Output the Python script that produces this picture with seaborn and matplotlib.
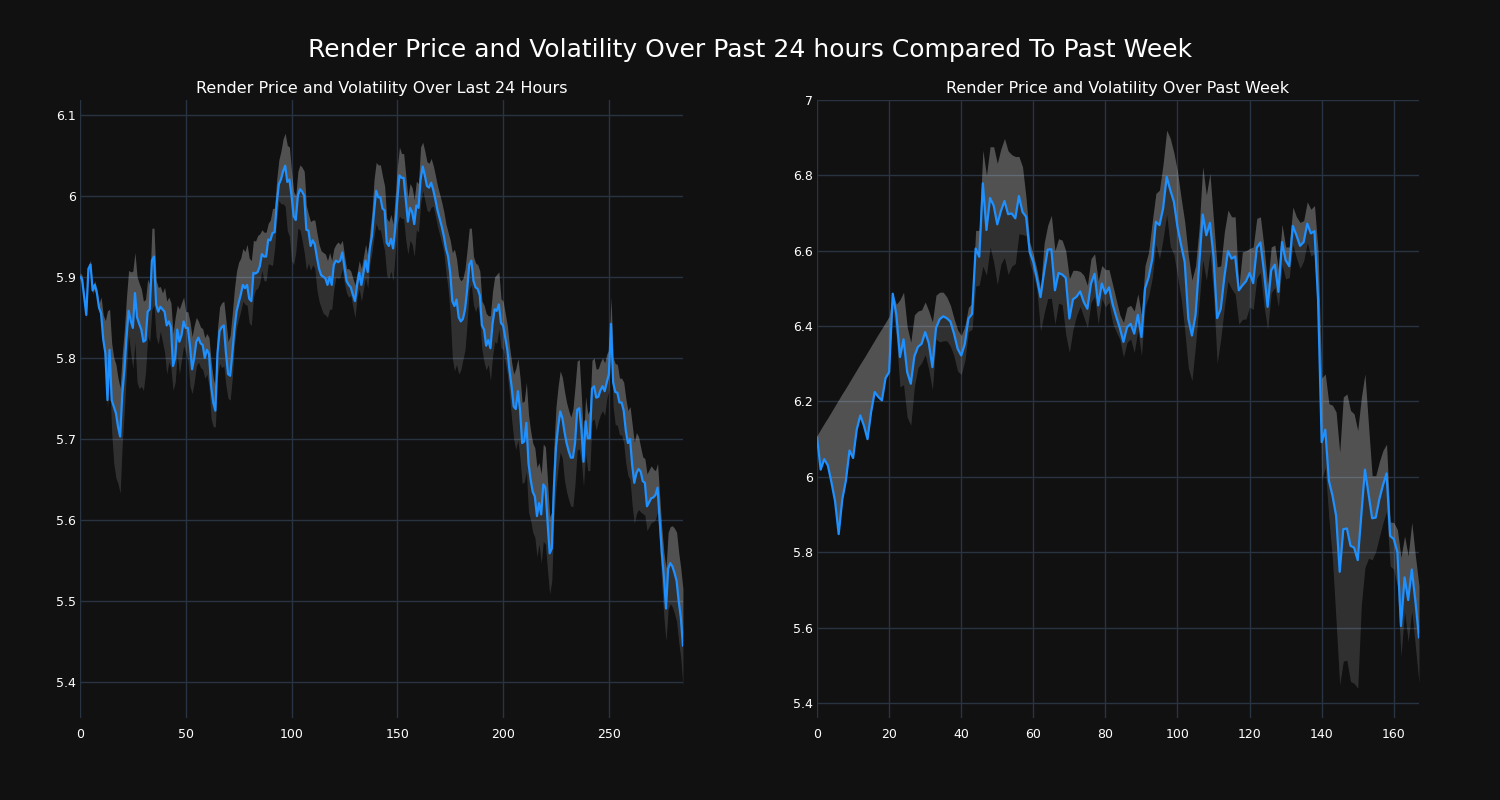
import numpy as np
import pandas as pd
import matplotlib
matplotlib.use("Agg")
import matplotlib.pyplot as plt
import seaborn as sns
from matplotlib.ticker import FuncFormatter, MultipleLocator

# Last 24 hours: price and band widths above / below the price
price_24h = [
    5.900, 5.897, 5.875, 5.853, 5.910, 5.915, 5.883, 5.890, 5.880, 5.862,
    5.855, 5.823, 5.806, 5.748, 5.810, 5.748, 5.740, 5.732, 5.715, 5.703,
    5.755, 5.785, 5.825, 5.858, 5.846, 5.837, 5.880, 5.850, 5.842, 5.835,
    5.820, 5.822, 5.857, 5.860, 5.920, 5.925, 5.866, 5.857, 5.863, 5.860,
    5.857, 5.840, 5.845, 5.838, 5.790, 5.800, 5.835, 5.820, 5.828, 5.845,
    5.837, 5.837, 5.815, 5.786, 5.800, 5.820, 5.825, 5.818, 5.816, 5.800,
    5.810, 5.805, 5.765, 5.745, 5.735, 5.806, 5.833, 5.838, 5.840, 5.806,
    5.780, 5.778, 5.805, 5.835, 5.857, 5.868, 5.878, 5.890, 5.886, 5.890,
    5.873, 5.870, 5.905, 5.904, 5.906, 5.913, 5.928, 5.925, 5.925, 5.946,
    5.945, 5.954, 5.955, 5.990, 6.014, 6.020, 6.030, 6.037, 6.017, 6.020,
    6.000, 5.975, 5.970, 6.000, 6.008, 6.005, 6.000, 5.958, 5.957, 5.938,
    5.945, 5.940, 5.924, 5.910, 5.902, 5.900, 5.898, 5.890, 5.900, 5.890,
    5.915, 5.920, 5.918, 5.920, 5.930, 5.912, 5.895, 5.890, 5.887, 5.878,
    5.870, 5.890, 5.905, 5.890, 5.905, 5.920, 5.906, 5.935, 5.950, 5.980,
    6.006, 5.998, 5.998, 5.984, 5.982, 5.942, 5.938, 5.947, 5.935, 5.960,
    5.995, 6.025, 6.022, 6.022, 5.995, 5.968, 5.985, 5.980, 5.965, 5.988,
    5.985, 6.020, 6.036, 6.025, 6.012, 6.010, 6.016, 6.007, 5.995, 5.982,
    5.972, 5.962, 5.950, 5.935, 5.925, 5.905, 5.870, 5.864, 5.872, 5.850,
    5.845, 5.848, 5.860, 5.884, 5.915, 5.920, 5.895, 5.887, 5.885, 5.877,
    5.840, 5.835, 5.815, 5.822, 5.812, 5.842, 5.860, 5.858, 5.866, 5.843,
    5.840, 5.825, 5.810, 5.785, 5.765, 5.740, 5.737, 5.759, 5.736, 5.695,
    5.697, 5.720, 5.670, 5.650, 5.635, 5.629, 5.605, 5.621, 5.607, 5.644,
    5.640, 5.598, 5.559, 5.565, 5.640, 5.690, 5.715, 5.734, 5.726, 5.709,
    5.695, 5.685, 5.677, 5.677, 5.695, 5.736, 5.738, 5.712, 5.672, 5.722,
    5.701, 5.701, 5.762, 5.765, 5.751, 5.752, 5.760, 5.765, 5.759, 5.770,
    5.780, 5.842, 5.770, 5.758, 5.757, 5.745, 5.745, 5.735, 5.710, 5.695,
    5.700, 5.668, 5.646, 5.658, 5.663, 5.660, 5.648, 5.646, 5.617, 5.622,
    5.627, 5.628, 5.631, 5.640, 5.600, 5.560, 5.530, 5.491, 5.540, 5.547,
    5.543, 5.535, 5.525, 5.500, 5.480, 5.445,
]
band_hi_24h = [
    0.005, 0.005, 0.005, 0.005, 0.005, 0.005, 0.005, 0.005, 0.005, 0.005,
    0.02, 0.03, 0.04, 0.11, 0.05, 0.07, 0.06, 0.06, 0.06, 0.06,
    0.05, 0.05, 0.05, 0.05, 0.06, 0.07, 0.05, 0.05, 0.05, 0.05,
    0.05, 0.05, 0.04, 0.03, 0.04, 0.035, 0.03, 0.03, 0.025, 0.02,
    0.03, 0.03, 0.03, 0.03, 0.04, 0.05, 0.03, 0.04, 0.04, 0.03,
    0.02, 0.02, 0.03, 0.04, 0.04, 0.03, 0.02, 0.02, 0.02, 0.025,
    0.02, 0.02, 0.03, 0.03, 0.03, 0.03, 0.03, 0.03, 0.03, 0.04,
    0.04, 0.05, 0.05, 0.05, 0.05, 0.05, 0.045, 0.045, 0.045, 0.05,
    0.05, 0.05, 0.04, 0.04, 0.045, 0.04, 0.03, 0.03, 0.03, 0.02,
    0.025, 0.03, 0.03, 0.03, 0.03, 0.035, 0.04, 0.04, 0.045, 0.04,
    0.03, 0.03, 0.03, 0.03, 0.03, 0.03, 0.03, 0.03, 0.02, 0.03,
    0.025, 0.03, 0.03, 0.03, 0.03, 0.03, 0.03, 0.03, 0.03, 0.03,
    0.02, 0.02, 0.025, 0.02, 0.015, 0.015, 0.015, 0.02, 0.02, 0.02,
    0.02, 0.015, 0.015, 0.02, 0.02, 0.02, 0.02, 0.02, 0.03, 0.04,
    0.035, 0.04, 0.04, 0.04, 0.03, 0.03, 0.03, 0.03, 0.03, 0.04,
    0.04, 0.035, 0.03, 0.03, 0.03, 0.03, 0.03, 0.03, 0.03, 0.03,
    0.03, 0.04, 0.03, 0.03, 0.03, 0.03, 0.03, 0.03, 0.03, 0.03,
    0.03, 0.03, 0.03, 0.03, 0.03, 0.04, 0.06, 0.07, 0.05, 0.05,
    0.05, 0.05, 0.05, 0.05, 0.045, 0.04, 0.03, 0.03, 0.03, 0.03,
    0.03, 0.03, 0.04, 0.03, 0.04, 0.04, 0.04, 0.045, 0.04, 0.03,
    0.03, 0.03, 0.03, 0.03, 0.03, 0.04, 0.05, 0.04, 0.04, 0.05,
    0.05, 0.05, 0.06, 0.06, 0.06, 0.06, 0.06, 0.05, 0.05, 0.05,
    0.05, 0.05, 0.045, 0.045, 0.05, 0.05, 0.05, 0.05, 0.05, 0.05,
    0.05, 0.05, 0.05, 0.06, 0.07, 0.06, 0.06, 0.04, 0.03, 0.03,
    0.03, 0.035, 0.035, 0.035, 0.035, 0.035, 0.035, 0.035, 0.035, 0.035,
    0.03, 0.033, 0.03, 0.035, 0.035, 0.03, 0.03, 0.035, 0.04, 0.04,
    0.04, 0.05, 0.05, 0.05, 0.04, 0.03, 0.03, 0.03, 0.04, 0.04,
    0.04, 0.035, 0.03, 0.03, 0.03, 0.03, 0.03, 0.05, 0.045, 0.045,
    0.05, 0.055, 0.06, 0.06, 0.06, 0.07,
]
band_lo_24h = [
    0.005, 0.005, 0.005, 0.005, 0.005, 0.005, 0.005, 0.005, 0.005, 0.005,
    0.01, 0.01, 0.01, 0.01, 0.03, 0.04, 0.07, 0.08, 0.07, 0.07,
    0.06, 0.05, 0.04, 0.03, 0.04, 0.05, 0.06, 0.08, 0.08, 0.07,
    0.06, 0.04, 0.03, 0.04, 0.06, 0.06, 0.04, 0.04, 0.03, 0.04,
    0.05, 0.06, 0.05, 0.05, 0.03, 0.03, 0.03, 0.04, 0.03, 0.03,
    0.03, 0.04, 0.05, 0.03, 0.03, 0.03, 0.03, 0.03, 0.03, 0.025,
    0.03, 0.04, 0.04, 0.03, 0.02, 0.03, 0.04, 0.05, 0.05, 0.04,
    0.03, 0.03, 0.03, 0.02, 0.02, 0.02, 0.02, 0.02, 0.02, 0.025,
    0.03, 0.03, 0.03, 0.02, 0.02, 0.02, 0.02, 0.03, 0.03, 0.03,
    0.03, 0.04, 0.02, 0.02, 0.02, 0.03, 0.04, 0.05, 0.06, 0.07,
    0.08, 0.06, 0.04, 0.04, 0.05, 0.06, 0.07, 0.05, 0.04, 0.03,
    0.03, 0.03, 0.04, 0.04, 0.04, 0.045, 0.045, 0.04, 0.04, 0.03,
    0.03, 0.02, 0.02, 0.02, 0.02, 0.02, 0.015, 0.015, 0.01, 0.015,
    0.02, 0.015, 0.02, 0.02, 0.02, 0.02, 0.02, 0.02, 0.02, 0.03,
    0.04, 0.04, 0.04, 0.04, 0.05, 0.04, 0.04, 0.04, 0.04, 0.03,
    0.03, 0.05, 0.05, 0.05, 0.05, 0.04, 0.04, 0.04, 0.04, 0.03,
    0.03, 0.03, 0.03, 0.03, 0.03, 0.03, 0.03, 0.02, 0.02, 0.02,
    0.02, 0.02, 0.02, 0.03, 0.04, 0.05, 0.07, 0.08, 0.08, 0.07,
    0.06, 0.05, 0.05, 0.04, 0.03, 0.03, 0.03, 0.03, 0.02, 0.03,
    0.03, 0.04, 0.03, 0.03, 0.04, 0.04, 0.04, 0.04, 0.03, 0.03,
    0.03, 0.03, 0.03, 0.03, 0.04, 0.04, 0.05, 0.06, 0.06, 0.05,
    0.05, 0.06, 0.06, 0.05, 0.05, 0.05, 0.05, 0.05, 0.06, 0.07,
    0.07, 0.06, 0.05, 0.04, 0.04, 0.05, 0.05, 0.05, 0.05, 0.06,
    0.06, 0.06, 0.06, 0.06, 0.05, 0.05, 0.05, 0.04, 0.03, 0.04,
    0.04, 0.04, 0.04, 0.04, 0.04, 0.03, 0.03, 0.03, 0.03, 0.02,
    0.02, 0.03, 0.03, 0.04, 0.04, 0.04, 0.04, 0.04, 0.04, 0.04,
    0.05, 0.05, 0.05, 0.05, 0.05, 0.05, 0.04, 0.04, 0.03, 0.03,
    0.03, 0.03, 0.03, 0.03, 0.03, 0.04, 0.05, 0.04, 0.05, 0.05,
    0.05, 0.05, 0.05, 0.05, 0.05, 0.05,
]

# Past week: hourly price and band widths
price_week = [
    6.105, 6.019, 6.047, 6.030, 5.985, 5.935, 5.848, 5.940, 5.990, 6.070,
    6.050, 6.125, 6.163, 6.136, 6.100, 6.172, 6.225, 6.212, 6.203, 6.262,
    6.278, 6.486, 6.430, 6.318, 6.365, 6.278, 6.247, 6.320, 6.345, 6.353,
    6.384, 6.355, 6.291, 6.395, 6.418, 6.426, 6.421, 6.412, 6.380, 6.340,
    6.322, 6.353, 6.420, 6.432, 6.606, 6.584, 6.779, 6.655, 6.740, 6.720,
    6.670, 6.705, 6.732, 6.697, 6.699, 6.686, 6.745, 6.703, 6.690, 6.597,
    6.570, 6.526, 6.477, 6.544, 6.603, 6.604, 6.495, 6.541, 6.537, 6.528,
    6.420, 6.471, 6.478, 6.492, 6.464, 6.446, 6.513, 6.539, 6.455, 6.513,
    6.486, 6.503, 6.458, 6.425, 6.395, 6.358, 6.397, 6.406, 6.380, 6.430,
    6.371, 6.500, 6.530, 6.578, 6.677, 6.668, 6.712, 6.796, 6.761, 6.730,
    6.663, 6.615, 6.570, 6.420, 6.375, 6.429, 6.561, 6.696, 6.641, 6.674,
    6.584, 6.421, 6.446, 6.530, 6.599, 6.579, 6.585, 6.495, 6.508, 6.519,
    6.541, 6.514, 6.608, 6.622, 6.544, 6.451, 6.548, 6.563, 6.491, 6.623,
    6.575, 6.559, 6.666, 6.641, 6.613, 6.623, 6.672, 6.646, 6.652, 6.470,
    6.092, 6.125, 5.990, 5.950, 5.897, 5.748, 5.861, 5.863, 5.817, 5.812,
    5.779, 5.900, 6.019, 5.954, 5.890, 5.892, 5.941, 5.978, 6.009, 5.843,
    5.835, 5.800, 5.604, 5.733, 5.673, 5.754, 5.670, 5.573,
]
band_hi_week = [
    0.005, 0.107, 0.095, 0.127, 0.188, 0.254, 0.357, 0.281, 0.246, 0.182,
    0.218, 0.159, 0.137, 0.179, 0.231, 0.175, 0.138, 0.167, 0.191, 0.148,
    0.148, 0.0, 0.028, 0.152, 0.125, 0.12, 0.11, 0.11, 0.095, 0.09,
    0.08, 0.085, 0.12, 0.087, 0.072, 0.064, 0.056, 0.043, 0.04, 0.05,
    0.053, 0.047, 0.03, 0.028, 0.048, 0.07, 0.088, 0.145, 0.136, 0.156,
    0.162, 0.165, 0.166, 0.168, 0.156, 0.164, 0.105, 0.12, 0.049, 0.026,
    0.02, 0.024, 0.023, 0.076, 0.065, 0.09, 0.105, 0.091, 0.091, 0.072,
    0.106, 0.077, 0.07, 0.053, 0.071, 0.062, 0.066, 0.053, 0.065, 0.048,
    0.064, 0.047, 0.052, 0.045, 0.035, 0.052, 0.053, 0.049, 0.06, 0.056,
    0.059, 0.061, 0.067, 0.10, 0.075, 0.093, 0.118, 0.124, 0.137, 0.13,
    0.147, 0.125, 0.107, 0.168, 0.147, 0.131, 0.099, 0.127, 0.107, 0.131,
    0.096, 0.136, 0.114, 0.12, 0.109, 0.111, 0.105, 0.005, 0.089, 0.081,
    0.065, 0.096, 0.078, 0.068, 0.066, 0.059, 0.062, 0.052, 0.059, 0.047,
    0.035, 0.051, 0.05, 0.049, 0.062, 0.057, 0.058, 0.064, 0.068, 0.13,
    0.17, 0.148, 0.204, 0.24, 0.275, 0.317, 0.351, 0.357, 0.359, 0.355,
    0.344, 0.31, 0.254, 0.182, 0.113, 0.111, 0.099, 0.092, 0.078, 0.037,
    0.044, 0.06, 0.182, 0.11, 0.117, 0.125, 0.12, 0.137,
]
band_lo_week = [
    0.0, 0.0, 0.0, 0.0, 0.0, 0.0, 0.0, 0.0, 0.0, 0.0,
    0.0, 0.0, 0.0, 0.0, 0.0, 0.0, 0.0, 0.0, 0.0, 0.0,
    0.0, 0.04, 0.06, 0.08, 0.12, 0.12, 0.11, 0.08, 0.055, 0.05,
    0.06, 0.07, 0.06, 0.03, 0.06, 0.065, 0.06, 0.065, 0.06, 0.06,
    0.05, 0.045, 0.035, 0.04, 0.1, 0.075, 0.22, 0.12, 0.13, 0.15,
    0.16, 0.14, 0.15, 0.16, 0.14, 0.12, 0.1, 0.06, 0.05, 0.03,
    0.03, 0.03, 0.09, 0.11, 0.13, 0.13, 0.09, 0.08, 0.08, 0.15,
    0.09, 0.08, 0.05, 0.04, 0.04, 0.05, 0.05, 0.06, 0.05, 0.04,
    0.035, 0.04, 0.05, 0.04, 0.03, 0.04, 0.04, 0.04, 0.05, 0.04,
    0.05, 0.05, 0.05, 0.05, 0.06, 0.09, 0.08, 0.1, 0.15, 0.14,
    0.13, 0.14, 0.18, 0.13, 0.12, 0.08, 0.1, 0.12, 0.12, 0.08,
    0.1, 0.12, 0.08, 0.08, 0.08, 0.08, 0.1, 0.09, 0.09, 0.1,
    0.09, 0.07, 0.08, 0.08, 0.09, 0.06, 0.06, 0.06, 0.04, 0.06,
    0.05, 0.03, 0.05, 0.06, 0.06, 0.05, 0.05, 0.06, 0.06, 0.08,
    0.1, 0.1, 0.1, 0.17, 0.28, 0.3, 0.35, 0.35, 0.36, 0.36,
    0.34, 0.24, 0.26, 0.17, 0.11, 0.09, 0.1, 0.1, 0.1, 0.08,
    0.08, 0.09, 0.08, 0.09, 0.11, 0.11, 0.12, 0.12,
]

BG = "#111111"
GRID = "#283442"

sns.set_style("darkgrid", {
    "axes.facecolor": BG,
    "figure.facecolor": BG,
    "grid.color": GRID,
    "axes.edgecolor": BG,
    "text.color": "white",
    "xtick.color": "white",
    "ytick.color": "white",
})
plt.rcParams["font.family"] = ["DejaVu Sans"]

fig = plt.figure(figsize=(15, 8), dpi=100, facecolor=BG)
ax1 = fig.add_axes([0.0533, 0.1025, 0.402, 0.7725])
ax2 = fig.add_axes([0.5447, 0.1025, 0.4013, 0.7725])


def draw(ax, price, hi, lo, title, xlim, ylim, xstep, ystep):
    df = pd.DataFrame({"t": np.arange(len(price)), "price": price,
                       "hi": hi, "lo": lo})
    upper = df["price"] + df["hi"]
    lower = df["price"] - df["lo"]
    # translucent bands so the grid shows through, like the original
    ax.fill_between(df["t"], lower, df["price"], color="white", alpha=0.135, lw=0, zorder=2)
    ax.fill_between(df["t"], df["price"], upper, color="white", alpha=0.27, lw=0, zorder=2)
    sns.lineplot(data=df, x="t", y="price", ax=ax, color="#1E90FF", lw=1.6, zorder=3)
    ax.set_xlim(*xlim)
    ax.set_ylim(*ylim)
    ax.xaxis.set_major_locator(MultipleLocator(xstep))
    ax.yaxis.set_major_locator(MultipleLocator(ystep))
    ax.yaxis.set_major_formatter(FuncFormatter(lambda v, p: f"{round(v, 2):g}"))
    ax.grid(True, color=GRID, lw=1)
    ax.set_axisbelow(True)
    ax.set_xlabel("")
    ax.set_ylabel("")
    ax.tick_params(axis="both", length=0, labelsize=9, colors="white")
    ax.tick_params(axis="x", pad=7)
    ax.tick_params(axis="y", pad=3)
    for s in ax.spines.values():
        s.set_visible(False)
    ax.set_title(title, color="white", fontsize=11.5, pad=5)


draw(ax1, price_24h, band_hi_24h, band_lo_24h,
     "Render Price and Volatility Over Last 24 Hours",
     (0, 285), (5.356, 6.118), 50, 0.1)
draw(ax2, price_week, band_hi_week, band_lo_week,
     "Render Price and Volatility Over Past Week",
     (0, 167), (5.36, 7.0), 20, 0.2)

fig.suptitle("Render Price and Volatility Over Past 24 hours Compared To Past Week",
             color="white", fontsize=18, y=0.9375, va="center")

fig.savefig("out.png", dpi=100, facecolor=BG)
